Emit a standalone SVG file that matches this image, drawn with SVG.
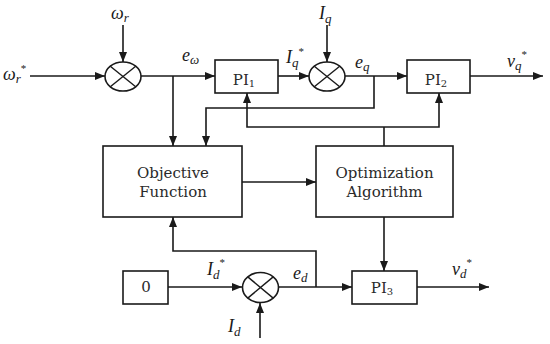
<svg xmlns="http://www.w3.org/2000/svg" width="550" height="344" viewBox="0 0 550 344">
<style>
.box{fill:#fff;stroke:#1a1a1a;stroke-width:1.6}
.sum{fill:#fff;stroke:#1a1a1a;stroke-width:1.6}
.x{stroke:#1a1a1a;stroke-width:1.4}
.ln{fill:none;stroke:#1a1a1a;stroke-width:1.6}
.arr{marker-end:url(#ah)}
.t{font-family:"DejaVu Serif",serif;font-size:15px;fill:#2a2a2a;text-anchor:middle}
.ts{font-family:"DejaVu Serif",serif;font-size:10px;fill:#2a2a2a}
.m{font-family:"Liberation Serif",serif;font-style:italic;font-size:18px;fill:#1a1a1a}
.sb{font-family:"Liberation Serif",serif;font-style:italic;font-size:13px}
.st{font-family:"Liberation Serif",serif;font-style:normal;font-size:11px}
</style>
<defs>
<marker id="ah" viewBox="0 0 10 8" refX="10" refY="4" markerWidth="10" markerHeight="8" markerUnits="userSpaceOnUse" orient="auto">
<path d="M0,0 L10,4 L0,8 z" fill="#1a1a1a"/>
</marker>
</defs>
<g id="connectors">
<line class="ln arr" x1="30" y1="76" x2="105" y2="76"/>
<line class="ln arr" x1="123" y1="25" x2="123" y2="62"/>
<line class="ln arr" x1="141" y1="76" x2="215" y2="76"/>
<line class="ln arr" x1="173" y1="76" x2="173" y2="146"/>
<line class="ln arr" x1="278" y1="76" x2="309" y2="76"/>
<line class="ln arr" x1="327" y1="25" x2="327" y2="62"/>
<line class="ln arr" x1="345" y1="76" x2="407" y2="76"/>
<line class="ln arr" x1="470" y1="76" x2="543" y2="76"/>
<polyline class="ln arr" points="374,76 374,108 206,108 206,146"/>
<line class="ln" x1="384" y1="146" x2="384" y2="127"/>
<polyline class="ln arr" points="316,127 247,127 247,93"/>
<polyline class="ln arr" points="316,127 439,127 439,93"/>
<line class="ln arr" x1="242" y1="182" x2="316" y2="182"/>
<line class="ln arr" x1="384" y1="217" x2="384" y2="271"/>
<line class="ln arr" x1="168" y1="287" x2="242" y2="287"/>
<line class="ln arr" x1="260" y1="338" x2="260" y2="303"/>
<line class="ln arr" x1="279" y1="287" x2="352" y2="287"/>
<polyline class="ln arr" points="316,287 316,251 173,251 173,217"/>
<line class="ln arr" x1="417" y1="287" x2="489" y2="287"/>
</g>
<g id="sum1">
<ellipse class="sum" cx="123" cy="76.5" rx="18" ry="14.5"/>
<line class="x" x1="110.3" y1="66.2" x2="135.7" y2="86.8"/>
<line class="x" x1="110.3" y1="86.8" x2="135.7" y2="66.2"/>
</g>
<g id="sum2">
<ellipse class="sum" cx="327" cy="76.5" rx="18" ry="14.5"/>
<line class="x" x1="314.3" y1="66.2" x2="339.7" y2="86.8"/>
<line class="x" x1="314.3" y1="86.8" x2="339.7" y2="66.2"/>
</g>
<g id="sum3">
<ellipse class="sum" cx="260.5" cy="287.5" rx="18" ry="15"/>
<line class="x" x1="247.8" y1="276.9" x2="273.2" y2="298.1"/>
<line class="x" x1="247.8" y1="298.1" x2="273.2" y2="276.9"/>
</g>
<g id="pi1">
<rect class="box" x="215" y="60" width="63" height="33"/>
<text class="t" x="244" y="85">PI<tspan class="ts" dy="2">1</tspan></text>
</g>
<g id="pi2">
<rect class="box" x="407" y="60" width="63" height="33"/>
<text class="t" x="436" y="85">PI<tspan class="ts" dy="2">2</tspan></text>
</g>
<g id="pi3">
<rect class="box" x="352" y="271" width="65" height="33"/>
<text class="t" x="382" y="293">PI<tspan class="ts" dy="2">3</tspan></text>
</g>
<g id="objective">
<rect class="box" x="103" y="146" width="139" height="71"/>
<text class="t" x="173" y="178">Objective</text>
<text class="t" x="173" y="197">Function</text>
</g>
<g id="optimization">
<rect class="box" x="316" y="146" width="137" height="71"/>
<text class="t" x="384.5" y="178">Optimization</text>
<text class="t" x="384.5" y="197">Algorithm</text>
</g>
<g id="zero">
<rect class="box" x="123" y="271" width="45" height="33"/>
<text class="t" x="146" y="292">0</text>
</g>
<g id="labels">
<text class="m" x="3" y="80">ω<tspan class="sb" dy="3">r</tspan><tspan class="st" dy="-11">*</tspan></text>
<text class="m" x="111" y="19">ω<tspan class="sb" dy="3">r</tspan></text>
<text class="m" x="182" y="61">e<tspan class="sb" dy="3">ω</tspan></text>
<text class="m" x="286" y="63">I<tspan class="sb" dy="4">q</tspan><tspan class="st" dy="-12">*</tspan></text>
<text class="m" x="319" y="19">I<tspan class="sb" dy="4">q</tspan></text>
<text class="m" x="355" y="68">e<tspan class="sb" dy="3">q</tspan></text>
<text class="m" x="507" y="67">v<tspan class="sb" dy="3">q</tspan><tspan class="st" dy="-12">*</tspan></text>
<text class="m" x="207" y="275">I<tspan class="sb" dy="4">d</tspan><tspan class="st" dy="-13">*</tspan></text>
<text class="m" x="293" y="279">e<tspan class="sb" dy="3">d</tspan></text>
<text class="m" x="228" y="332">I<tspan class="sb" dy="4">d</tspan></text>
<text class="m" x="452" y="275">v<tspan class="sb" dy="3">d</tspan><tspan class="st" dy="-12">*</tspan></text>
</g>
</svg>
